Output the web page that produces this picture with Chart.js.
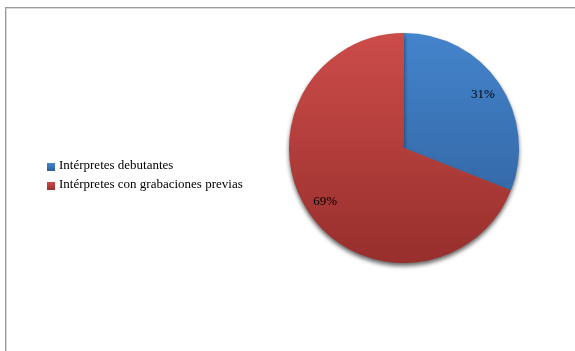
<!DOCTYPE html>
<html>
<head>
<meta charset="utf-8">
<script src="https://cdn.jsdelivr.net/npm/chart.js@4.4.1/dist/chart.umd.min.js"></script>
<style>
  html, body { margin: 0; padding: 0; background: #fff; }
  #wrap { position: relative; width: 575px; height: 351px; }
  #frame { position: absolute; left: 5px; top: 7px; right: -2px; bottom: -2px;
           border-left: 1px solid #9a9a9a; border-top: 1px solid #9a9a9a;
           box-shadow: inset 1px 1px 0 #d8d8d8; }
  canvas { position: absolute; left: 0; top: 0; }
</style>
</head>
<body>
<div id="wrap">
  <div id="frame"></div>
  <canvas id="pie" width="575" height="351"></canvas>
</div>
<script>
const categories = ['Intérpretes debutantes', 'Intérpretes con grabaciones previas'];
const shares = [31, 69];
// top / bottom colours of each slice's vertical gradient
const sliceTop = ['#4484cc', '#cc4c49'];
const sliceBottom = ['#2e5e99', '#972f2c'];

const FONT = '"Liberation Serif", "Times New Roman", serif';

function sliceFill(ctx) {
  const chart = ctx.chart;
  const area = chart.chartArea;
  if (!area) return sliceTop[ctx.dataIndex];
  const g = chart.ctx.createLinearGradient(0, area.top, 0, area.bottom);
  g.addColorStop(0, sliceTop[ctx.dataIndex]);
  g.addColorStop(1, sliceBottom[ctx.dataIndex]);
  return g;
}

// drop shadow under the pie
const pieShadow = {
  id: 'pieShadow',
  beforeDatasetsDraw(chart) {
    const c = chart.ctx;
    c.save();
    c.shadowColor = 'rgba(0,0,0,0.6)';
    c.shadowBlur = 4;
    c.shadowOffsetX = 0;
    c.shadowOffsetY = 3;
  },
  afterDatasetsDraw(chart) {
    chart.ctx.restore();
  }
};

// percentage labels inside the slices
const sliceLabels = {
  id: 'sliceLabels',
  afterDatasetsDraw(chart) {
    const c = chart.ctx;
    const meta = chart.getDatasetMeta(0);
    const total = shares.reduce((a, b) => a + b, 0);
    c.save();
    c.font = '13px ' + FONT;
    c.fillStyle = '#000';
    c.textAlign = 'center';
    c.textBaseline = 'middle';
    meta.data.forEach((arc, i) => {
      const mid = (arc.startAngle + arc.endAngle) / 2;
      const r = arc.outerRadius * 0.83;
      const x = arc.x + Math.cos(mid) * r;
      const y = arc.y + Math.sin(mid) * r;
      c.fillText(Math.round(shares[i] / total * 100) + '%', x, y);
    });
    c.restore();
  }
};

// legend on the left, square swatch + label
const sideLegend = {
  id: 'sideLegend',
  afterDraw(chart) {
    const c = chart.ctx;
    c.save();
    c.font = '13px ' + FONT;
    c.textBaseline = 'middle';
    categories.forEach((name, i) => {
      const y = 166 + i * 19;
      const g = c.createLinearGradient(0, y - 3, 0, y + 5);
      g.addColorStop(0, sliceTop[i]);
      g.addColorStop(1, sliceBottom[i]);
      c.fillStyle = g;
      c.fillRect(47, y - 3, 8, 8);
      c.fillStyle = '#000';
      c.fillText(name, 59, y);
    });
    c.restore();
  }
};

new Chart(document.getElementById('pie'), {
  type: 'pie',
  data: {
    labels: categories,
    datasets: [{
      data: shares,
      backgroundColor: sliceFill,
      borderWidth: 0
    }]
  },
  options: {
    responsive: false,
    animation: false,
    layout: { padding: { left: 289, right: 56, top: 33, bottom: 88 } },
    plugins: {
      legend: { display: false },
      tooltip: { enabled: false }
    }
  },
  plugins: [pieShadow, sliceLabels, sideLegend]
});
</script>
</body>
</html>
